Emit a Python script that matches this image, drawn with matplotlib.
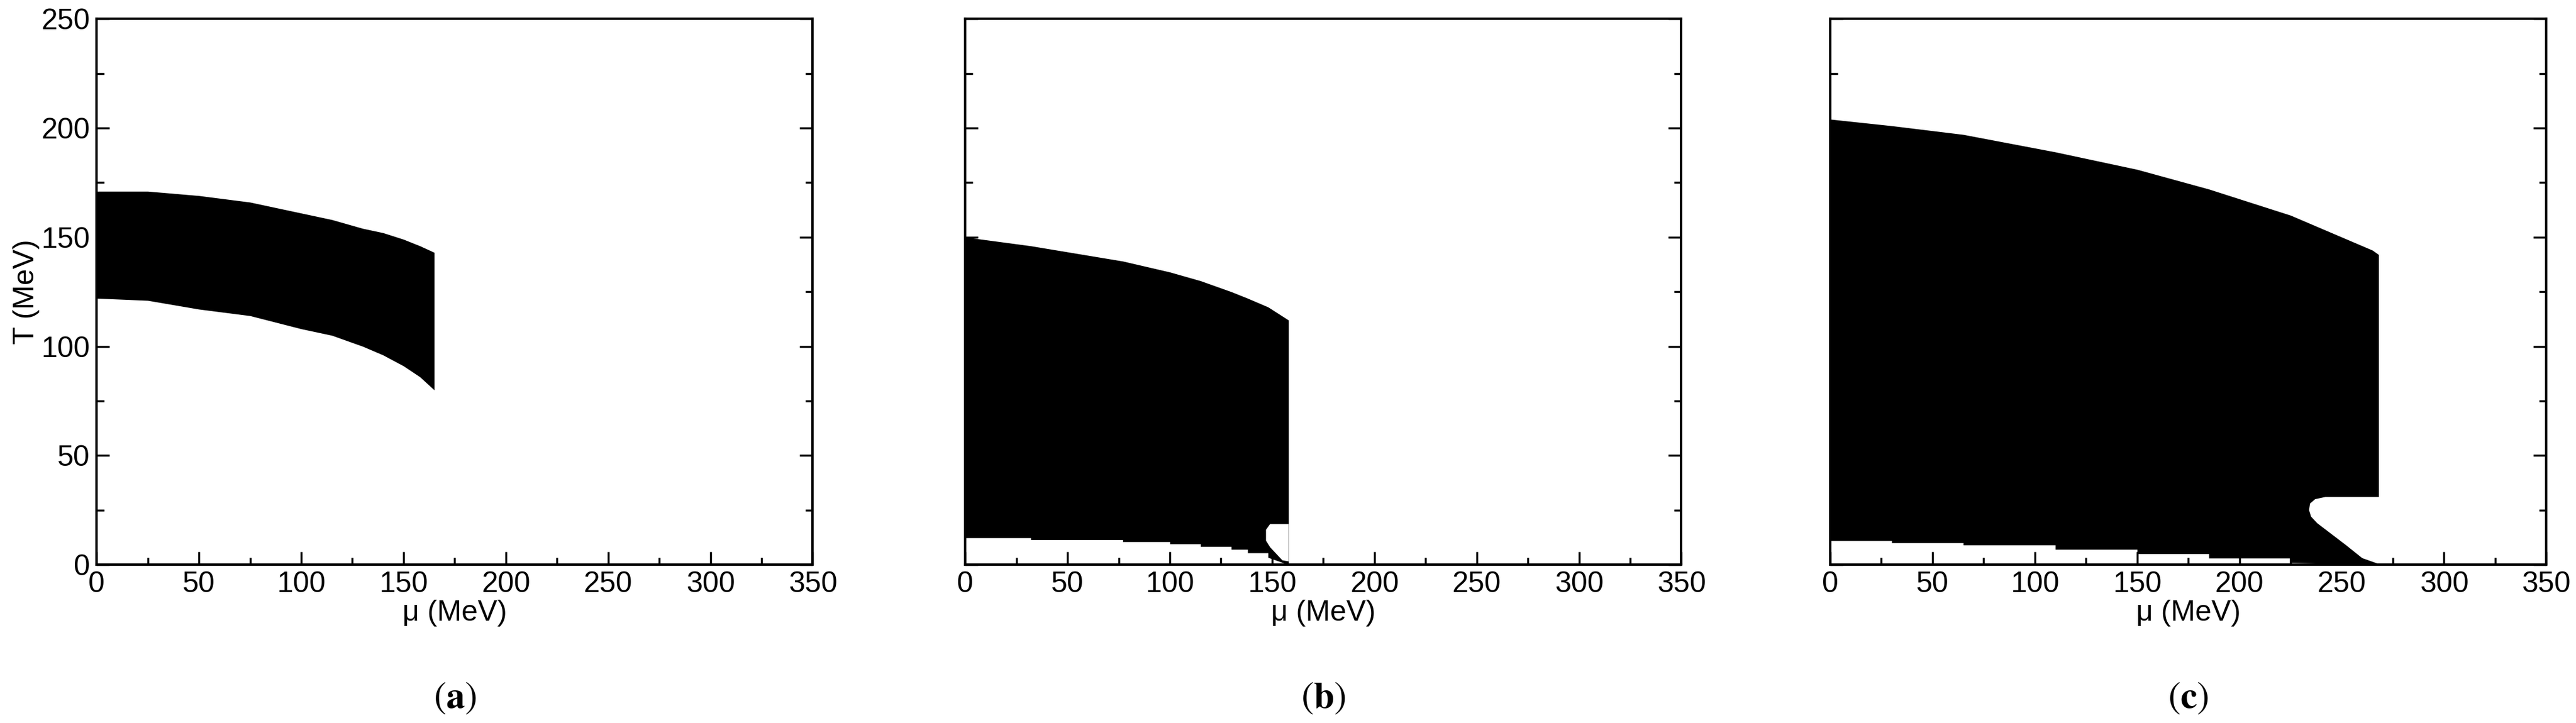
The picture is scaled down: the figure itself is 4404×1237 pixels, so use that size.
import matplotlib
matplotlib.use("Agg")
import matplotlib.pyplot as plt
from matplotlib.ticker import MultipleLocator

plt.rcParams['font.family'] = ['Liberation Sans', 'DejaVu Sans']
plt.rcParams['mathtext.fontset'] = 'stix'

# Panel (a)
mu_a = [0, 25, 50, 75, 100, 115, 130, 140, 150, 158, 165]
up_a = [171, 171, 169, 166, 161, 158, 154, 152, 149, 146, 143]
lo_a = [122, 121, 117, 114, 108, 105, 100, 96, 91, 86, 80]

# Panel (b)
mu_b = [0, 32, 32, 77, 77, 100, 100, 115, 115, 130, 130, 138, 138, 148, 148, 158]
up_b = [150, 146, 146, 139, 139, 134, 134, 130, 130, 125, 125, 122, 122, 118, 118, 112]
lo_b = [12.3, 12.3, 11.4, 11.4, 10.5, 10.5, 9.5, 9.5, 8.3, 8.3, 7, 7, 5.4, 5.4, 3.3, 0]
lobe_mu_b = [158, 149, 147, 147, 149, 152, 155, 158]
lobe_T_b = [18.6, 18.6, 16, 11, 8, 5, 2, 1.5]

# Panel (c)
mu_c = [0, 30, 30, 65, 65, 110, 110, 150, 150, 185, 185, 225, 225, 265, 268]
up_c = [204, 201, 201, 197, 197, 189, 189, 181, 181, 172, 172, 160, 160, 144, 142]
lo_c = [11, 11, 10, 10, 9, 9, 7, 7, 5, 5, 3, 3, 1, 0, 0]
lobe_mu_c = [269, 242, 237, 234.5, 234, 235, 238, 245, 252, 260, 269]
lobe_T_c = [31, 31, 30, 28, 25, 22, 19, 14, 9, 3, 0]

fig = plt.figure(figsize=(44.04, 12.37), dpi=100)
lefts = [0.0375, 0.3747, 0.7105]
width = 0.278
bottom, height = 0.219, 0.755
labels = ['a', 'b', 'c']

panels = [
    (mu_a, up_a, lo_a, None, None),
    (mu_b, up_b, lo_b, lobe_mu_b, lobe_T_b),
    (mu_c, up_c, lo_c, lobe_mu_c, lobe_T_c),
]
for i, (mu, up, lo, lmu, lT) in enumerate(panels):
    ax = fig.add_axes([lefts[i], bottom, width, height])
    ax.fill_between(mu, lo, up, color='black', lw=0)
    if lmu is not None:
        ax.fill(lmu, lT, color='white', lw=0)
    ax.set_xlim(0, 350)
    ax.set_ylim(0, 250)
    ax.xaxis.set_major_locator(MultipleLocator(50))
    ax.xaxis.set_minor_locator(MultipleLocator(25))
    ax.yaxis.set_major_locator(MultipleLocator(50))
    ax.yaxis.set_minor_locator(MultipleLocator(25))
    ax.tick_params(which='both', direction='in', top=False, right=True, labelsize=36, width=2.5)
    ax.tick_params(which='major', length=16, pad=8)
    ax.tick_params(which='minor', length=9)
    for s in ax.spines.values():
        s.set_linewidth(3)
    ax.set_xlabel('μ (MeV)', fontsize=36, labelpad=2)
    if i == 0:
        ax.set_ylabel('T (MeV)', fontsize=36, labelpad=2)
    else:
        ax.set_yticklabels([])
    ax.text(0.5, -0.245, r'$(\mathbf{%s})$' % labels[i], transform=ax.transAxes,
            ha='center', va='center', fontsize=46)

fig.savefig('out.png', dpi=100)
